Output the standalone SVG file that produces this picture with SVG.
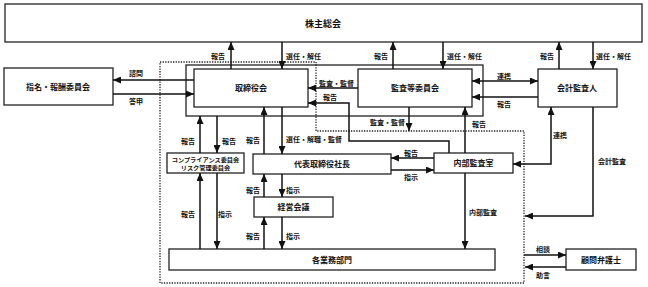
<svg xmlns="http://www.w3.org/2000/svg" width="648" height="287" viewBox="0 0 648 287">
<defs>
<marker id="ah" viewBox="0 0 8 7" refX="8" refY="3.5" markerWidth="8" markerHeight="7" markerUnits="userSpaceOnUse" orient="auto-start-reverse">
<path d="M0,0 L8,3.5 L0,7 z" fill="#111"/>
</marker>
<style>
.box{fill:#fff;stroke:#222;stroke-width:1.3}
.frame{fill:none;stroke:#222;stroke-width:1.3}
.dot{fill:none;stroke:#222;stroke-width:1.3;stroke-dasharray:1.3 1.3}
.c{fill:none;stroke:#111;stroke-width:1.5}
.a{marker-end:url(#ah)}
.b{marker-start:url(#ah);marker-end:url(#ah)}
text{font-family:"Noto Sans CJK JP","Noto Sans CJK SC",sans-serif;font-weight:bold;fill:#111}
.t{font-size:8px;text-anchor:middle}
.l{font-size:7px}
</style>
</defs>
<rect class="frame" x="186" y="65" width="297" height="51"/>
<path class="dot" d="M160,62 H316 V131 H524 V283 H160 Z"/>
<g id="shareholders"><rect class="box" x="5" y="4" width="637" height="38"/><text class="t" x="323" y="26.5" style="font-size:9px">株主総会</text></g>
<g id="nomination"><rect class="box" x="4" y="68" width="109" height="37"/><text class="t" x="58" y="90">指名・報酬委員会</text></g>
<g id="board"><rect class="box" x="194" y="69" width="114" height="38"/><text class="t" x="251" y="91">取締役会</text></g>
<g id="audit-committee"><rect class="box" x="358" y="69" width="114" height="38"/><text class="t" x="415" y="91">監査等委員会</text></g>
<g id="auditor"><rect class="box" x="538" y="69" width="79" height="38"/><text class="t" x="577" y="91">会計監査人</text></g>
<g id="compliance"><rect class="box" x="167" y="153" width="77" height="20"/><text class="t" x="205.5" y="162" style="font-size:6.2px">コンプライアンス委員会</text><text class="t" x="205.5" y="169.5" style="font-size:6.2px">リスク管理委員会</text></g>
<g id="president"><rect class="box" x="253" y="154" width="138" height="20"/><text class="t" x="322" y="167">代表取締役社長</text></g>
<g id="internal-audit"><rect class="box" x="434" y="153" width="79" height="20"/><text class="t" x="473.5" y="166">内部監査室</text></g>
<g id="management"><rect class="box" x="254" y="197" width="79" height="20"/><text class="t" x="293.5" y="210">経営会議</text></g>
<g id="business"><rect class="box" x="169" y="249" width="326" height="21"/><text class="t" x="332" y="262.5">各業務部門</text></g>
<g id="lawyer"><rect class="box" x="566" y="249" width="70" height="21"/><text class="t" x="601" y="262.5">顧問弁護士</text></g>
<g id="connectors">
<path class="c a" d="M231,69 V42"/>
<path class="c a" d="M282,42 V69"/>
<path class="c a" d="M393,69 V42"/>
<path class="c a" d="M443,42 V69"/>
<path class="c a" d="M559,69 V42"/>
<path class="c a" d="M593,42 V69"/>
<path class="c a" d="M194,80 H113"/>
<path class="c a" d="M113,94 H194"/>
<path class="c a" d="M358,88 H308"/>
<path class="c a" d="M449,153 V141 H349 V103 H308"/>
<path class="c b" d="M472,81 H538"/>
<path class="c a" d="M538,97 H472"/>
<path class="c a" d="M409,107 V131"/>
<path class="c a" d="M465,153 V107"/>
<path class="c b" d="M551,107 V164 H513"/>
<path class="c a" d="M593,107 V216 H525"/>
<path class="c a" d="M200,153 V116"/>
<path class="c a" d="M217,116 V153"/>
<path class="c a" d="M264,154 V107"/>
<path class="c a" d="M282,107 V154"/>
<path class="c a" d="M434,158 H391"/>
<path class="c a" d="M391,170 H434"/>
<path class="c a" d="M264,197 V174"/>
<path class="c a" d="M282,174 V197"/>
<path class="c a" d="M200,249 V173"/>
<path class="c a" d="M217,173 V249"/>
<path class="c a" d="M264,249 V217"/>
<path class="c a" d="M282,217 V249"/>
<path class="c a" d="M465,173 V249"/>
<path class="c a" d="M524,255 H566"/>
<path class="c a" d="M566,267 H525"/>
</g>
<g id="labels">
<text class="l" x="211" y="58.5">報告</text>
<text class="l" x="286" y="58.5">選任・解任</text>
<text class="l" x="374" y="58.5">報告</text>
<text class="l" x="447" y="58.5">選任・解任</text>
<text class="l" x="540" y="58.5">報告</text>
<text class="l" x="596" y="58.5">選任・解任</text>
<text class="l" x="129" y="75.5">諮問</text>
<text class="l" x="129" y="103.5">答申</text>
<text class="l" x="319" y="85.5">監査・監督</text>
<text class="l" x="323" y="99.5">報告</text>
<text class="l" x="497" y="78.5">連携</text>
<text class="l" x="497" y="106.5">報告</text>
<text class="l" x="370" y="124.5">監査・監督</text>
<text class="l" x="472" y="126.5">報告</text>
<text class="l" x="553" y="137.5">連携</text>
<text class="l" x="598" y="163.5">会計監査</text>
<text class="l" x="181" y="143.5">報告</text>
<text class="l" x="222" y="143.5">報告</text>
<text class="l" x="246" y="142.5">報告</text>
<text class="l" x="286" y="141.5">選任・解職・監督</text>
<text class="l" x="404" y="155.5">報告</text>
<text class="l" x="404" y="179.5">指示</text>
<text class="l" x="246" y="192.5">報告</text>
<text class="l" x="286" y="192.5">指示</text>
<text class="l" x="181" y="216.5">報告</text>
<text class="l" x="218" y="216.5">指示</text>
<text class="l" x="246" y="238.5">報告</text>
<text class="l" x="286" y="238.5">指示</text>
<text class="l" x="469" y="214.5">内部監査</text>
<text class="l" x="536" y="251.5">相談</text>
<text class="l" x="536" y="277.5">助言</text>
</g>
</svg>
